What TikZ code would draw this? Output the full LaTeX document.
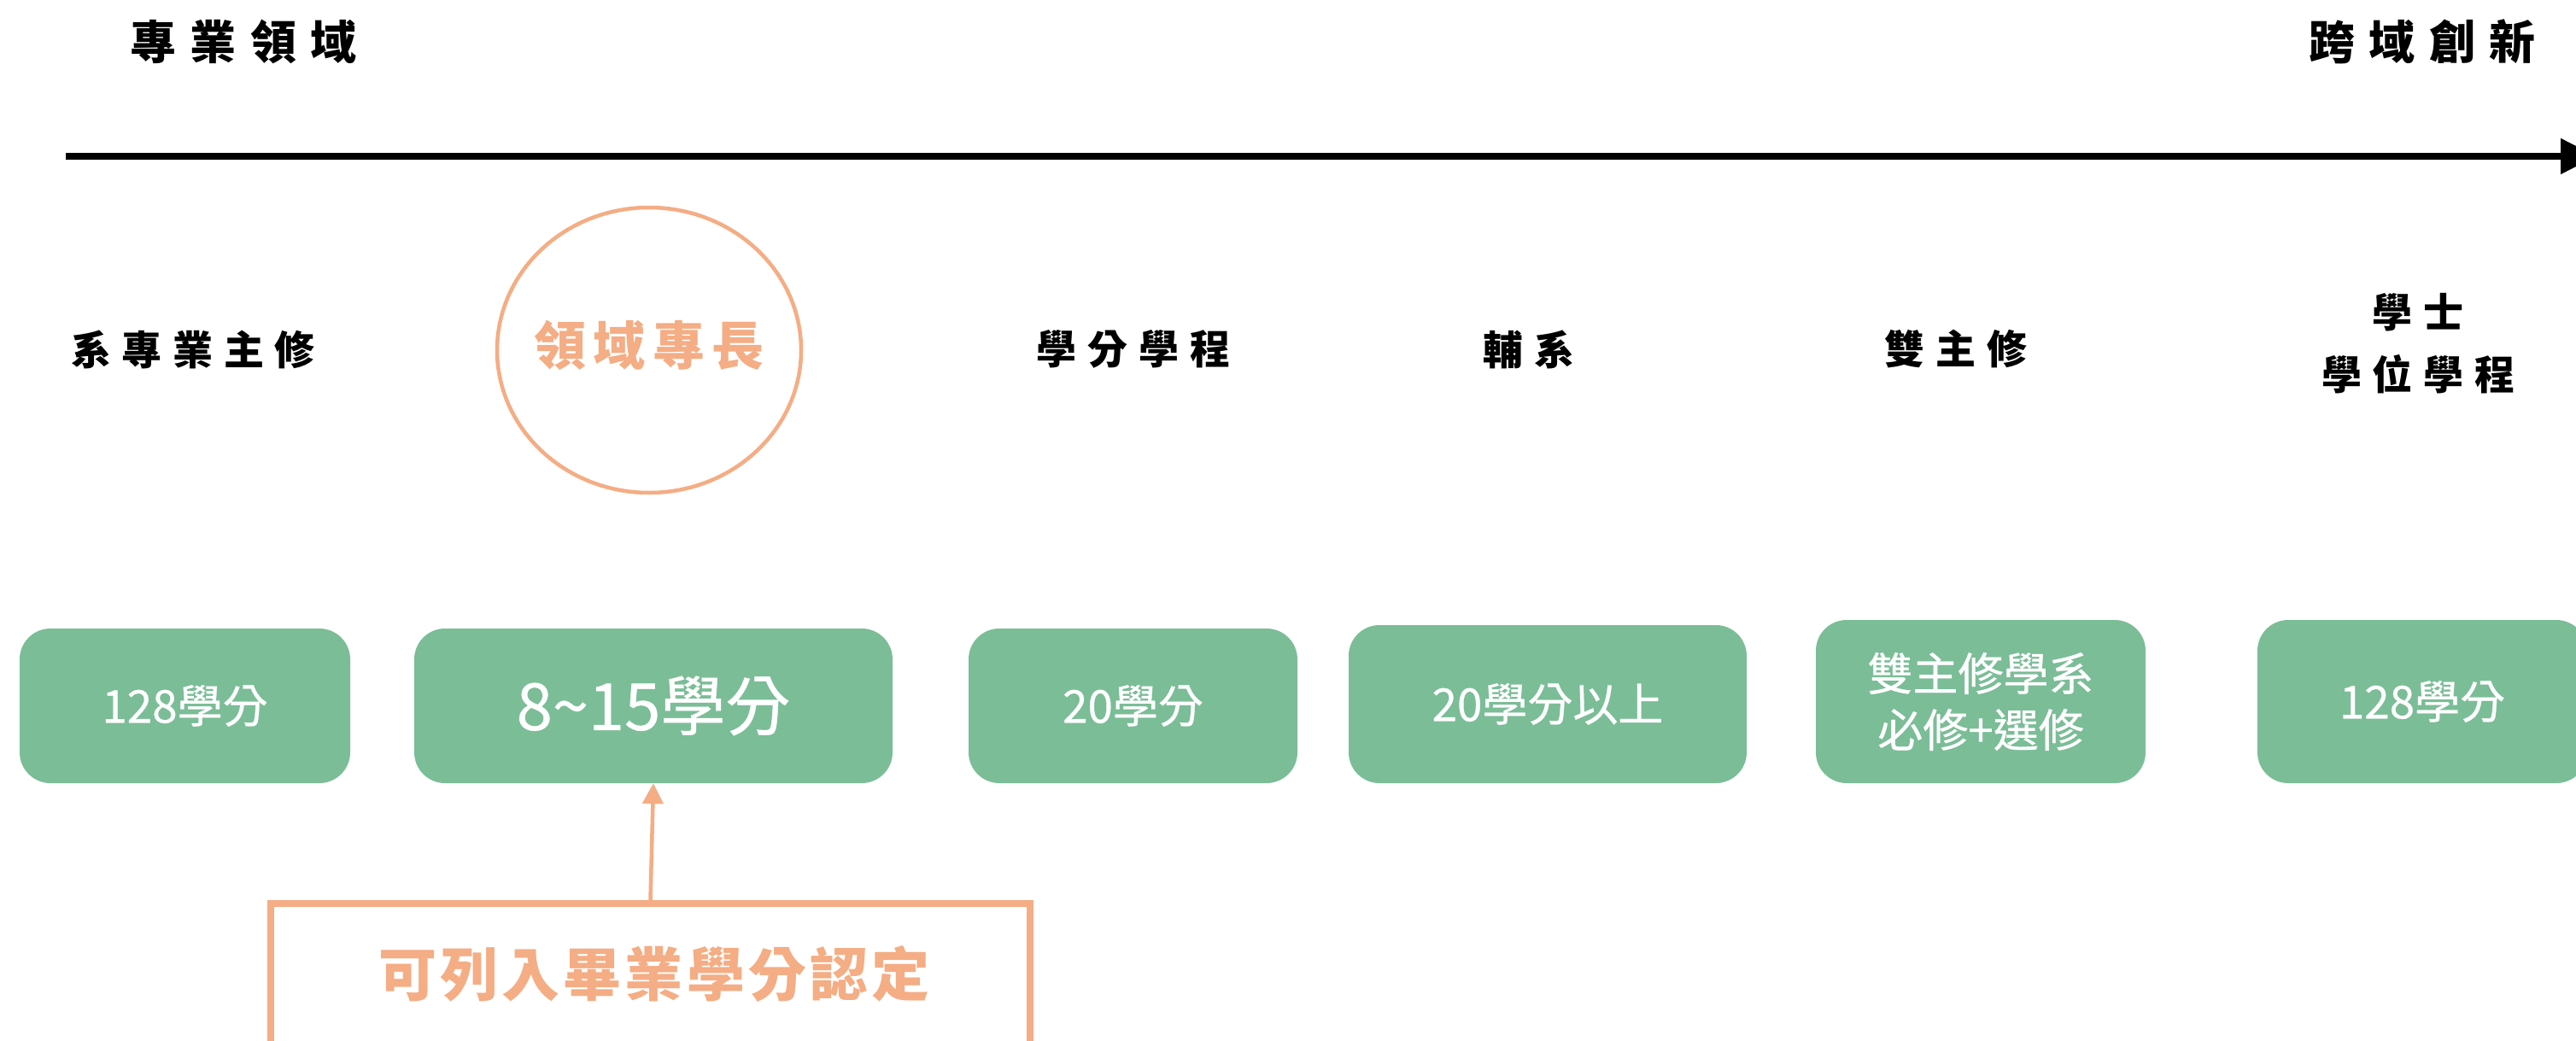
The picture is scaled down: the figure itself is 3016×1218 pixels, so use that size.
\documentclass[tikz,border=0pt]{standalone}
\usepackage{fontspec}
\setmainfont{Noto Sans CJK TC}
\usetikzlibrary{arrows.meta,shapes.geometric}
\definecolor{grn}{HTML}{7BBD97}
\definecolor{org}{HTML}{F4AD84}
\tikzset{
  credit/.style={fill=grn, rounded corners=36pt, text=white, inner sep=0pt,
    font=\fontsize{53}{66}\selectfont\addfontfeature{FakeBold=0.6}, align=center},
  toptitle/.style={inner sep=0pt, font=\fontsize{54}{60}\selectfont\bfseries\addfontfeature{LetterSpace=30}},
  lbl/.style={inner sep=0pt, align=center, font=\fontsize{47}{73}\selectfont\bfseries\addfontfeature{LetterSpace=27}},
}
\begin{document}
\begin{tikzpicture}[x=1pt,y=-1pt]
\useasboundingbox (0,0) rectangle (3016,1218);
\clip (0,0) rectangle (3016,1218);
\fill[white] (0,0) rectangle (3016,1218);

% titles
\node[toptitle] (t1) at (285,49) {專業領域};
\node[toptitle] (t2) at (2836,49) {跨域創新};

% axis arrow
\coordinate (axs) at (77,183);
\coordinate (axe) at (3040,183);
\draw[line width=8pt, -{Triangle[length=42pt,width=40pt]}] (axs) -- (axe);

% labels
\node[lbl] (l1) at (226,409) {系專業主修};
\node[ellipse, draw=org, line width=4.5pt, minimum width=356pt, minimum height=334pt, inner sep=0pt] (circ) at (760,410) {};
\node[inner sep=0pt, text=org, font=\fontsize{61}{70}\selectfont\bfseries\addfontfeature{LetterSpace=14}] (l2) at (760,404) {領域專長};
\node[lbl] (l3) at (1327,409) {學分學程};
\node[lbl] (l4) at (1790,409) {輔系};
\node[lbl] (l5) at (2290,409) {雙主修};
\node[lbl] (l6) at (2831,402) {學士\\學位學程};

% credit boxes
\node[credit, minimum width=387pt, minimum height=181pt] (b1) at (216.5,826.5) {128學分};
\node[credit, minimum width=560pt, minimum height=181pt, font=\fontsize{76}{86}\selectfont\addfontfeature{FakeBold=0.6}] (b2) at (765,826.5) {8\textasciitilde15學分};
\node[credit, minimum width=385pt, minimum height=181pt] (b3) at (1326.5,826.5) {20學分};
\node[credit, minimum width=466pt, minimum height=185pt] (b4) at (1812,824.5) {20學分以上};
\node[credit, minimum width=386pt, minimum height=191pt] (b5) at (2319,821.5) {雙主修學系\\必修+選修};
\node[credit, minimum width=386pt, minimum height=191pt] (b6) at (2836,821.5) {128學分};

% bottom note
\node[draw=org, line width=8pt, minimum width=889pt, minimum height=190pt, inner sep=0pt] (note) at (761.5,1153) {};
\node[inner sep=0pt, text=org, font=\fontsize{68}{80}\selectfont\bfseries\addfontfeature{LetterSpace=6}] (notetxt) at (766,1140) {可列入畢業學分認定};
\draw[org, line width=4.5pt, -{Triangle[length=24pt,width=24pt]}] (note.north) -- (b2.south);
\end{tikzpicture}
\end{document}
